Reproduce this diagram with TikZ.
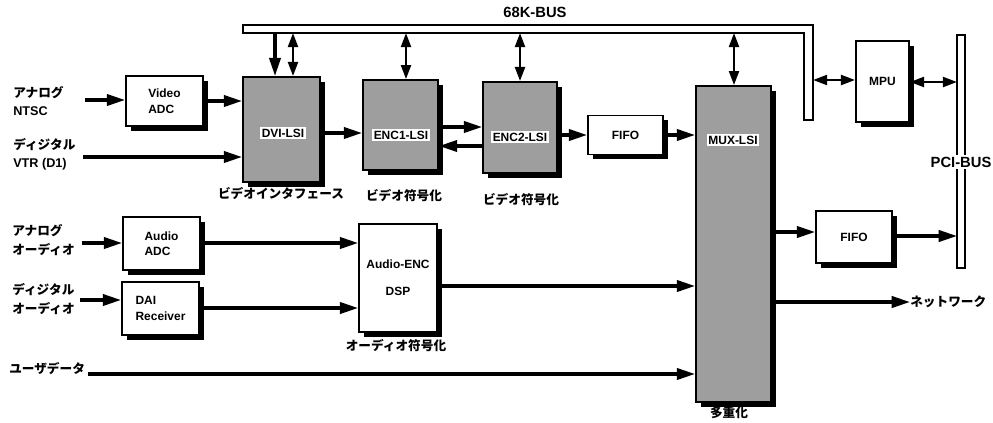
\documentclass[tikz,border=0pt]{standalone}
\usepackage{fontspec}
\setmainfont{Liberation Sans}
\newfontfamily\jpfont{Noto Sans CJK JP}
\usetikzlibrary{arrows.meta, positioning, shadows}
\tikzset{
  blkbox/.style={draw=black,line width=1.2pt,fill=white,inner sep=1pt,
    font=\fontsize{8.5}{11}\selectfont\bfseries,
    drop shadow={shadow xshift=0.12cm,shadow yshift=-0.12cm,fill=black,opacity=1}},
  lsibox/.style={blkbox,fill=black!38},
  lsitag/.style={fill=white,inner sep=1pt,font=\fontsize{8.5}{11}\selectfont\bfseries},
  jplabel/.style={inner sep=0pt,font=\jpfont\bfseries\fontsize{9}{11}\selectfont},
  inlabel/.style={inner sep=0pt,anchor=west,align=left,font=\fontsize{9}{13}\selectfont\bfseries},
  buslabel/.style={inner sep=1pt,font=\fontsize{10.5}{12}\selectfont\bfseries},
  busbar/.style={draw=black,line width=1pt,fill=white},
  sigline/.style={-{Triangle[length=13pt,width=8pt]},line width=2.3pt},
  busline/.style={{Triangle[length=10pt,width=7pt]}-{Triangle[length=10pt,width=7pt]},line width=1.8pt},
}

\begin{document}
\begin{tikzpicture}[x=0.025cm,y=-0.025cm]
  \useasboundingbox (0,0) rectangle (993,422);

  % buses
  \draw[busbar] (243,25) -- (813,25) -- (813,120) -- (804,120) -- (804,33) -- (243,33) -- cycle;
  \node[buslabel] (l68k) at (535,12) {68K-BUS};
  \draw[busbar] (957,35) rectangle (965,268);
  \node[buslabel,fill=white] (lpci) at (961,162) {PCI-BUS};

  % inputs
  \node[inlabel] (tNTSC) at (13,101) {{\jpfont アナログ}\\NTSC};
  \node[inlabel] (tVTR) at (13,154) {{\jpfont ディジタル}\\VTR (D1)};
  \node[inlabel] (tAAna) at (12,240) {{\jpfont アナログ}\\{\jpfont オーディオ}};
  \node[inlabel] (tADig) at (12,299) {{\jpfont ディジタル}\\{\jpfont オーディオ}};
  \node[inlabel] (tUser) at (9,369) {{\jpfont ユーザデータ}};

  % video path
  \node[blkbox,minimum width=1.93cm,minimum height=1.25cm,align=left] (nVADC) at (164.5,101) {Video\\ADC};
  \node[lsibox,minimum width=1.93cm,minimum height=2.63cm] (nDVI) at (281.5,129.5) {};
  \node[lsitag] (tDVI) at (283,133) {DVI-LSI};
  \node[jplabel] (lDVI) at (281,194) {ビデオインタフェース};
  \node[lsibox,minimum width=1.88cm,minimum height=2.25cm] (nENC1) at (400.5,125) {};
  \node[lsitag] (tENC1) at (401,135) {ENC1-LSI};
  \node[jplabel] (lENC1) at (404,196) {ビデオ符号化};
  \node[lsibox,minimum width=1.85cm,minimum height=2.28cm] (nENC2) at (520,127.5) {};
  \node[lsitag] (tENC2) at (520,137) {ENC2-LSI};
  \node[jplabel] (lENC2) at (521,200) {ビデオ符号化};
  \node[blkbox,minimum width=1.88cm,minimum height=0.98cm] (nFIFOa) at (625.5,135) {FIFO};

  % audio path
  \node[blkbox,minimum width=1.93cm,minimum height=1.33cm,align=left] (nAADC) at (161.5,243.5) {Audio\\ADC};
  \node[blkbox,minimum width=1.93cm,minimum height=1.33cm,align=left] (nDAI) at (160.5,308.5) {DAI\\Receiver};
  \node[blkbox,minimum width=1.95cm,minimum height=2.7cm,align=center] (nAENC) at (398,278) {Audio-ENC\\[8pt]DSP};
  \node[jplabel] (lAENC) at (396,346) {オーディオ符号化};

  % mux and host side
  \node[lsibox,minimum width=1.88cm,minimum height=7.9cm] (nMUX) at (733.5,244) {};
  \node[lsitag] (tMUX) at (733,140) {MUX-LSI};
  \node[jplabel] (lMUX) at (729,413) {多重化};
  \node[blkbox,minimum width=1.33cm,minimum height=2.03cm] (nMPU) at (882.5,81.5) {MPU};
  \node[blkbox,minimum width=1.9cm,minimum height=1.3cm] (nFIFOb) at (854,237) {FIFO};
  \node[jplabel,anchor=west] (tNet) at (910,302) {ネットワーク};

  \coordinate (iNTSC) at (85,100);
  \coordinate (iVTR) at (83,157);
  \coordinate (iAAna) at (82,243);
  \coordinate (iADig) at (80,300);
  \coordinate (iUser) at (88,374);
  \coordinate (bDVIa) at (275,33);
  \coordinate (bDVIb) at (293,33);
  \coordinate (bENC1) at (406,33);
  \coordinate (bENC2) at (520,33);
  \coordinate (bMUX) at (734,33);
  \coordinate (bMPU) at (813,80);
  \coordinate (pMPU) at (957,82);
  \coordinate (pFIFO) at (957,236);

  \draw[sigline] (iNTSC) -- (nVADC.west |- iNTSC);
  \draw[sigline] (nVADC.east) -- (nVADC.east -| nDVI.west);
  \draw[sigline] (iVTR) -- (nDVI.west |- iVTR);
  \draw[sigline] (nDVI.east |- 0,133) -- (nENC1.west |- 0,133);
  \draw[sigline] (nENC1.east |- 0,127) -- (nENC2.west |- 0,127);
  \draw[sigline] (nENC2.west |- 0,146) -- (nENC1.east |- 0,146);
  \draw[sigline] (nENC2.east |- nFIFOa.west) -- (nFIFOa.west);
  \draw[sigline] (nFIFOa.east) -- (nFIFOa.east -| nMUX.west);

  \draw[sigline] (iAAna) -- (nAADC.west |- iAAna);
  \draw[sigline] (nAADC.east |- iAAna) -- (nAENC.west |- iAAna);
  \draw[sigline] (iADig) -- (nDAI.west |- iADig);
  \draw[sigline] (nDAI.east |- 0,308) -- (nAENC.west |- 0,308);
  \draw[sigline] (nAENC.east |- 0,286) -- (nMUX.west |- 0,286);
  \draw[sigline] (iUser) -- (nMUX.west |- iUser);

  \draw[sigline] (nMUX.east |- 0,232) -- (nFIFOb.west |- 0,232);
  \draw[sigline] (nFIFOb.east |- pFIFO) -- (pFIFO);
  \draw[sigline] (nMUX.east |- tNet.west) -- (tNet.west);

  \draw[sigline] (bDVIa) -- (nDVI.north -| bDVIa);
  \draw[busline] (bDVIb) -- (nDVI.north -| bDVIb);
  \draw[busline] (bENC1) -- (nENC1.north -| bENC1);
  \draw[busline] (bENC2) -- (nENC2.north -| bENC2);
  \draw[busline] (bMUX) -- (nMUX.north -| bMUX);
  \draw[busline] (bMPU) -- (nMPU.west |- bMPU);
  \draw[busline] (nMPU.east |- pMPU) -- (pMPU);
\end{tikzpicture}
\end{document}
